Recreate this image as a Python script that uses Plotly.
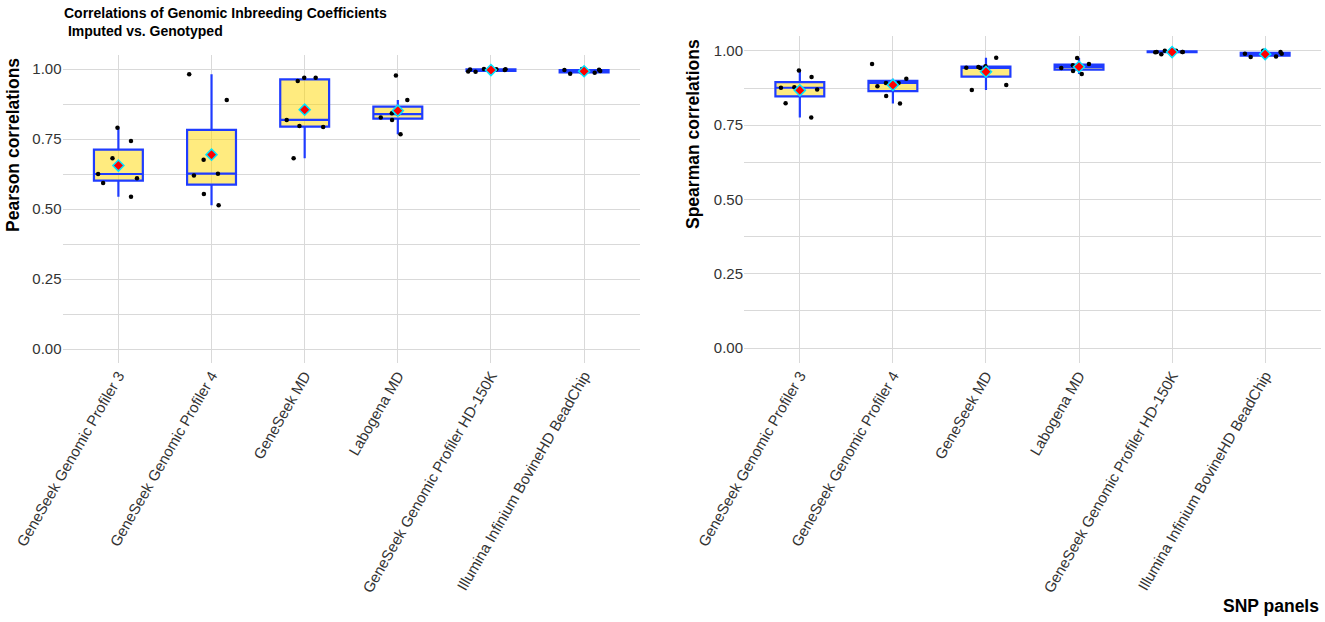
import numpy as np
import plotly.graph_objects as go

# SNP panels (x categories)
panels = [
    "GeneSeek Genomic Profiler 3",
    "GeneSeek Genomic Profiler 4",
    "GeneSeek MD",
    "Labogena MD",
    "GeneSeek Genomic Profiler HD-150K",
    "Illumina Infinium BovineHD BeadChip",
]

# Pearson correlations, imputed vs. genotyped (7 coefficients per panel)
pearson_ggp3 = [0.790, 0.743, 0.681, 0.625, 0.610, 0.593, 0.544]
pearson_ggp4 = [0.981, 0.889, 0.676, 0.626, 0.620, 0.554, 0.513]
pearson_gsmd = [0.969, 0.957, 0.969, 0.818, 0.796, 0.793, 0.681]
pearson_labogena = [0.977, 0.889, 0.839, 0.842, 0.827, 0.818, 0.767]
pearson_hd150k = [1.000, 0.990, 0.996, 0.999, 0.998, 0.991, 0.999]
pearson_illumina = [1.000, 0.996, 0.987, 0.993, 0.983, 0.988, 0.997]

# Spearman correlations
spearman_ggp3 = [0.934, 0.912, 0.870, 0.878, 0.824, 0.776, 0.876]
spearman_ggp4 = [0.956, 0.906, 0.892, 0.892, 0.881, 0.848, 0.823]
spearman_gsmd = [0.977, 0.946, 0.948, 0.942, 0.943, 0.885, 0.868]
spearman_labogena = [0.976, 0.956, 0.932, 0.942, 0.952, 0.946, 0.922]
spearman_hd150k = [0.996, 0.996, 1.000, 0.989, 0.996, 1.000, 0.995]
spearman_illumina = [0.987, 0.996, 0.979, 0.990, 1.000, 0.981, 0.990]

y_ticks = [0, 0.25, 0.5, 0.75, 1.0]
y_ticklabels = ["0.00", "0.25", "0.50", "0.75", "1.00"]

pearson = [pearson_ggp3, pearson_ggp4, pearson_gsmd,
           pearson_labogena, pearson_hd150k, pearson_illumina]
spearman = [spearman_ggp3, spearman_ggp4, spearman_gsmd,
            spearman_labogena, spearman_hd150k, spearman_illumina]

W, H = 1325, 622
BOX_FILL = "rgba(255,215,0,0.5)"   # gold, half transparent
BOX_LINE = "#1f3cff"
GRID = "#d9d9d9"
TICK_FONT = dict(family="Liberation Sans, Arial, sans-serif", size=15, color="#333333")


def px_x(p):
    return p / W


def px_y(p):
    return 1 - p / H


fig = go.Figure()

for groups, xa, ya in [(pearson, "x", "y"), (spearman, "x2", "y2")]:
    xs = [panels[i] for i, g in enumerate(groups) for _ in g]
    ys = [v for g in groups for v in g]
    fig.add_trace(go.Box(
        x=xs, y=ys, xaxis=xa, yaxis=ya,
        quartilemethod="inclusive",
        boxpoints="all", jitter=1.0, pointpos=0,
        fillcolor=BOX_FILL,
        line=dict(color=BOX_LINE, width=2.2),
        whiskerwidth=0,
        marker=dict(color="black", size=4.5),
        showlegend=False, hoverinfo="y",
    ))
    # mean of each panel as red diamond
    fig.add_trace(go.Scatter(
        x=panels, y=[float(np.mean(g)) for g in groups],
        xaxis=xa, yaxis=ya, mode="markers",
        marker=dict(symbol="diamond", size=8.5, color="red",
                    line=dict(color="#00e5ff", width=1.5)),
        showlegend=False,
    ))

xaxis_common = dict(
    type="category", range=[-0.6, 5.6], tickangle=-60,
    showgrid=True, gridcolor=GRID, gridwidth=1.3,
    zeroline=False, showline=False, ticks="",
    tickfont=TICK_FONT, automargin=False,
)
yaxis_common = dict(
    range=[-0.05, 1.05], tickvals=y_ticks, ticktext=y_ticklabels,
    showgrid=True, gridcolor=GRID, gridwidth=1.3,
    minor=dict(tickvals=[0.125, 0.375, 0.625, 0.875], showgrid=True,
               gridcolor=GRID, gridwidth=1.3),
    zeroline=False, showline=False, ticks="",
    tickfont=TICK_FONT, automargin=False,
)

fig.update_layout(
    width=W, height=H,
    margin=dict(l=0, r=0, t=0, b=0),
    plot_bgcolor="white", paper_bgcolor="white",
    boxgap=0.25,
    xaxis=dict(domain=[px_x(62.5), px_x(640)], anchor="y", **xaxis_common),
    yaxis=dict(domain=[px_y(363), px_y(55)], anchor="x", **yaxis_common),
    xaxis2=dict(domain=[px_x(744), px_x(1321)], anchor="y2", **xaxis_common),
    yaxis2=dict(domain=[px_y(363), px_y(36)], anchor="x2", **yaxis_common),
)

bold = "Liberation Sans, Arial, sans-serif"
fig.add_annotation(
    text="<b>Correlations of Genomic Inbreeding Coefficients<br>\u00a0Imputed vs. Genotyped</b>",
    x=px_x(62), y=px_y(3), xref="paper", yref="paper",
    xanchor="left", yanchor="top", align="left", showarrow=False,
    font=dict(family=bold, size=14, color="black"),
)
fig.add_annotation(
    text="<b>Pearson correlations</b>", textangle=-90,
    x=px_x(13), y=px_y(56), xref="paper", yref="paper",
    xanchor="center", yanchor="top", showarrow=False,
    font=dict(family=bold, size=17.5, color="black"),
)
fig.add_annotation(
    text="<b>Spearman correlations</b>", textangle=-90,
    x=px_x(693), y=px_y(37), xref="paper", yref="paper",
    xanchor="center", yanchor="top", showarrow=False,
    font=dict(family=bold, size=17.5, color="black"),
)
fig.add_annotation(
    text="<b>SNP panels</b>",
    x=px_x(1321), y=px_y(606), xref="paper", yref="paper",
    xanchor="right", yanchor="middle", showarrow=False,
    font=dict(family=bold, size=17.5, color="black"),
)

# drop the page's default body margin so the figure sits at the window corner
fig.write_html(
    "out.html",
    config={"displayModeBar": False},
    post_script="document.body.style.margin='0';document.body.style.overflow='hidden';",
)
